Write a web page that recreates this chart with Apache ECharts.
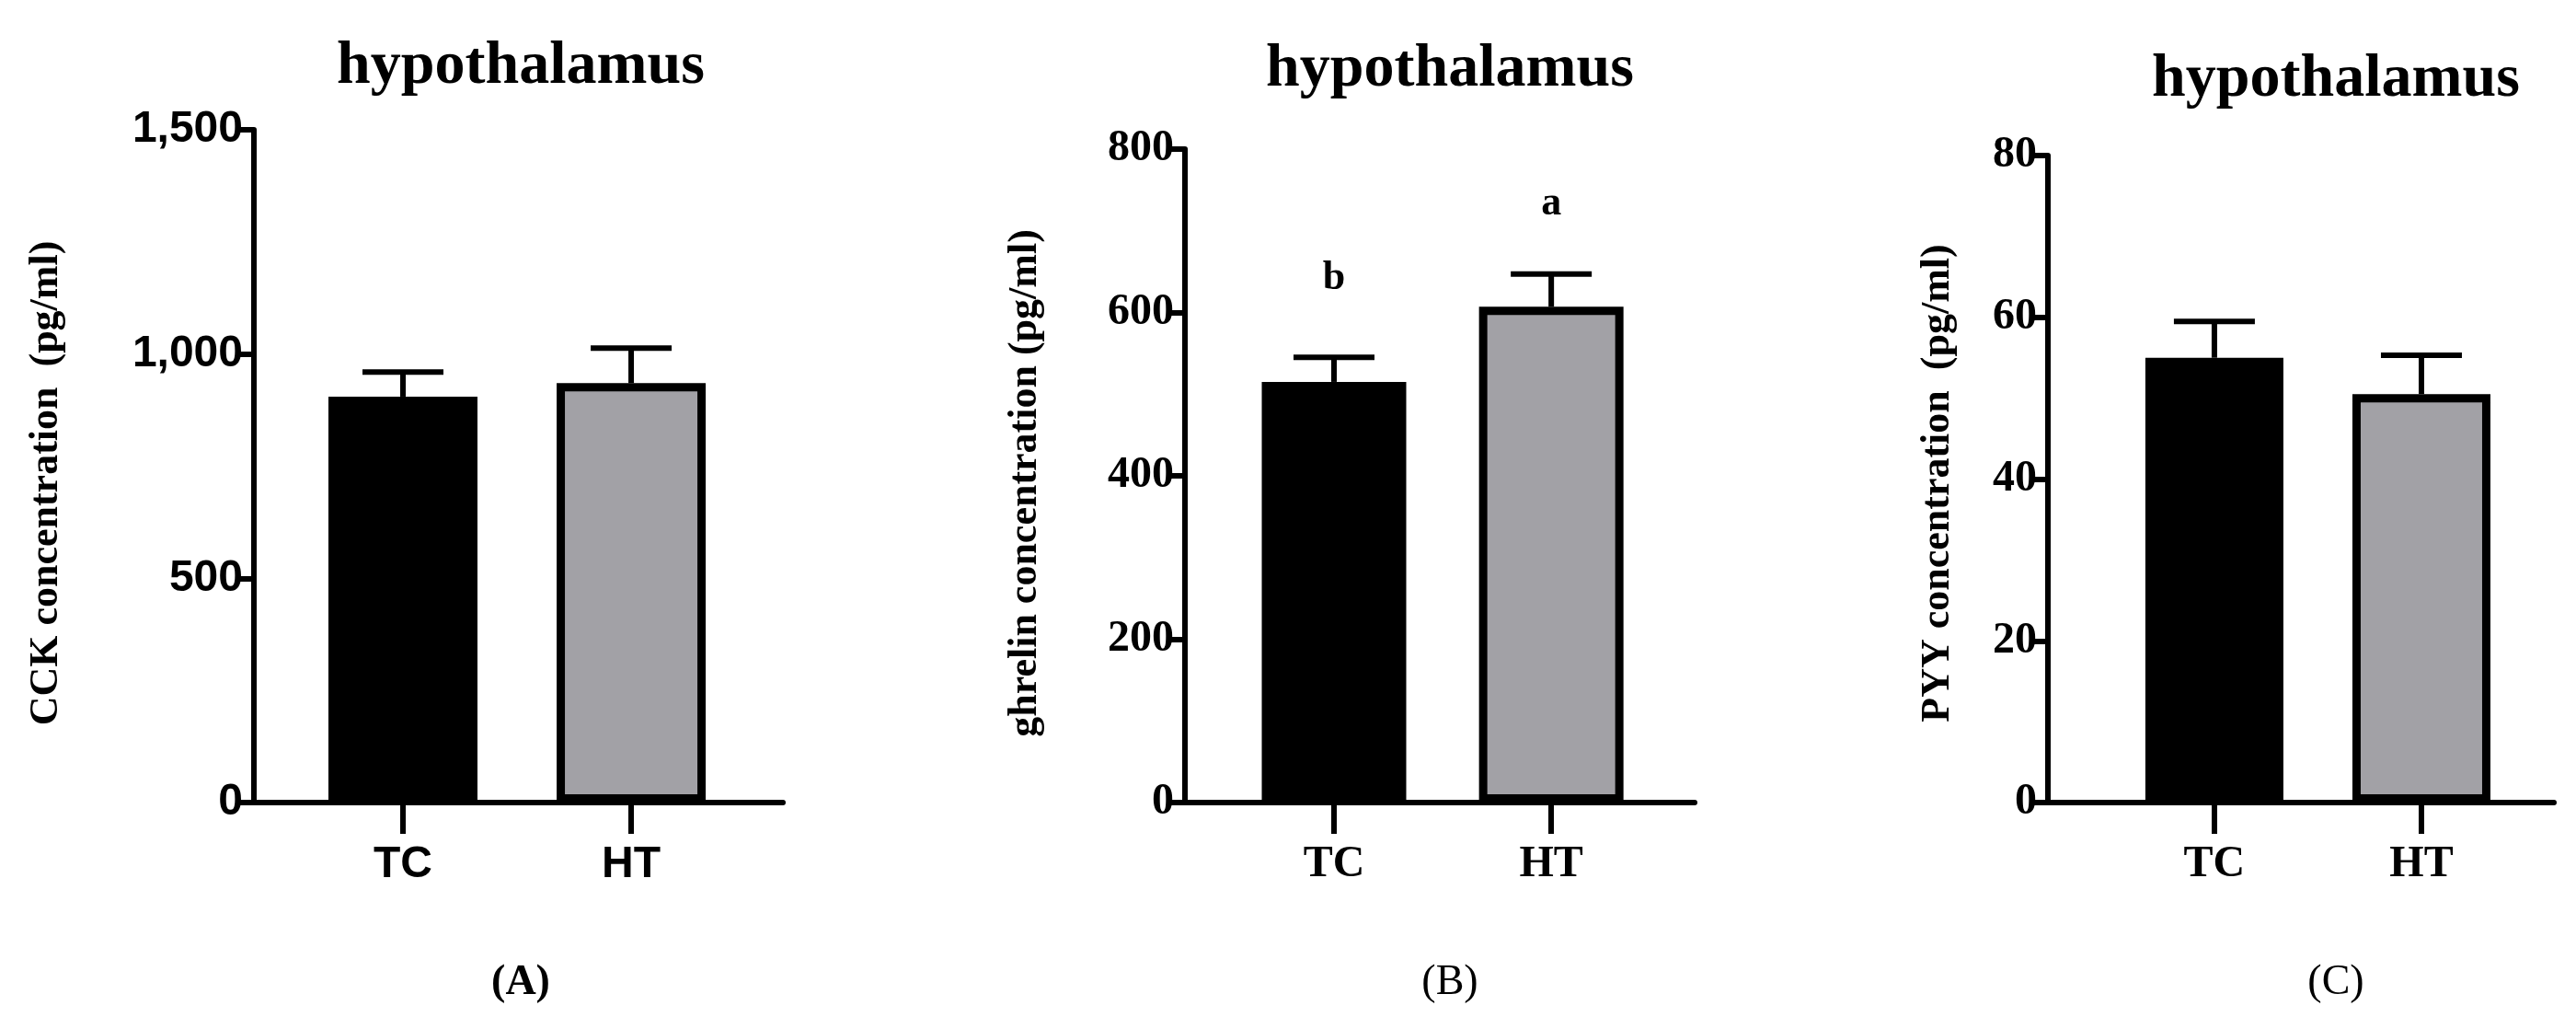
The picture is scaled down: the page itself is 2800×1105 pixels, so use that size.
<!DOCTYPE html>
<html><head><meta charset="utf-8">
<script src="https://cdn.jsdelivr.net/npm/echarts@6/dist/echarts.min.js"></script>
<style>html,body{margin:0;background:#fff}#c{width:2800px;height:1105px}</style>
</head><body><div id="c"></div>
<script>
const categories = ['TC', 'HT'];
const cckMean = [905, 935];
const cckErr = [55, 78];
const ghrelinMean = [515, 607];
const ghrelinErr = [30, 40];
const pyyMean = [55, 50.5];
const pyyErr = [4.5, 4.8];
const letters = ['b', 'a'];
const colors = ['#000000', '#a2a1a6'];

const chart = echarts.init(document.getElementById('c'));
const panels = [
  { mean: cckMean, err: cckErr, max: 1500, step: 500, left: 276, top: 141, width: 575, xmin: 0.347, xmax: 2.665, bw: 162, name: 'CCK concentration  (pg/ml)', font: 'Liberation Sans', lab: '(A)', labBold: true, cx: 561, ty: 35, nameX: 51 },
  { mean: ghrelinMean, err: ghrelinErr, max: 800, step: 200, left: 1288, top: 162, width: 554, xmin: 0.314, xmax: 2.66, bw: 157, name: 'ghrelin concentration (pg/ml)', font: 'Liberation Sans Narrow', lab: '(B)', labBold: false, cx: 1571, ty: 38, nameX: 1115 },
  { mean: pyyMean, err: pyyErr, max: 80, step: 20, left: 2226, top: 169, width: 550, xmin: 0.196, xmax: 2.64, bw: 150, name: 'PYY concentration  (pg/ml)', font: 'Liberation Sans Narrow', lab: '(C)', labBold: false, cx: 2534, ty: 49, nameX: 2107 }
];

const grid = [], xAxis = [], yAxis = [], series = [], title = [];
panels.forEach((p, i) => {
  grid.push({ left: p.left, top: p.top, width: p.width, bottom: 233 });
  xAxis.push({
    type: 'value', gridIndex: i, min: p.xmin, max: p.xmax, splitLine: { show: false },
    axisLine: { lineStyle: { color: '#000', width: 6 } },
    axisTick: { customValues: [1, 2], length: 34, lineStyle: { color: '#000', width: 6 } },
    axisLabel: { customValues: [1, 2], formatter: v => categories[Math.round(v) - 1], color: '#000', fontFamily: p.font, fontWeight: 'bold', fontSize: 48, margin: 44 }
  });
  yAxis.push({
    type: 'value', gridIndex: i, min: 0, max: p.max, interval: p.step, splitLine: { show: false },
    axisLine: { show: true, lineStyle: { color: '#000', width: 6 } },
    axisTick: { show: true, length: 18, lineStyle: { color: '#000', width: 6 } },
    axisLabel: { color: '#000', fontFamily: p.font, fontWeight: 'bold', fontSize: 48, margin: 12 }
  });
  series.push({
    type: 'bar', xAxisIndex: i, yAxisIndex: i, barWidth: p.bw,
    data: p.mean.map((v, k) => ({ value: [k + 1, v], itemStyle: { color: colors[k], borderColor: '#000', borderWidth: 9 } })),
    label: i === 1 ? { show: true, position: 'top', distance: 90, formatter: d => letters[d.dataIndex], fontFamily: 'Liberation Serif', fontWeight: 'bold', fontSize: 44, color: '#000' } : { show: false },
    z: 2
  });
  series.push({
    type: 'custom', xAxisIndex: i, yAxisIndex: i, z: 1,
    data: p.mean.map((v, k) => [k + 1, v, v + p.err[k]]),
    renderItem: (params, api) => {
      const b = api.coord([api.value(0), api.value(1)]);
      const t = api.coord([api.value(0), api.value(2)]);
      const s = { stroke: '#000', lineWidth: 6 };
      return { type: 'group', children: [
        { type: 'line', shape: { x1: b[0], y1: b[1], x2: t[0], y2: t[1] }, style: s },
        { type: 'line', shape: { x1: t[0] - 44, y1: t[1], x2: t[0] + 44, y2: t[1] }, style: s }
      ] };
    }
  });
  title.push({ text: 'hypothalamus', left: p.cx, top: p.ty, textAlign: 'center', textStyle: { fontFamily: 'Liberation Serif', fontWeight: 'bold', fontSize: 66, color: '#000' } });
  title.push({ text: p.lab, left: p.cx, top: 1040, textAlign: 'center', textStyle: { fontFamily: 'Liberation Serif', fontWeight: p.labBold ? 'bold' : 'normal', fontSize: 46, color: '#000' } });
});

chart.setOption({
  animation: false,
  title, grid, xAxis, yAxis, series,
  graphic: panels.map(p => ({
    type: 'text', x: p.nameX, y: 525, rotation: Math.PI / 2,
    style: { text: p.name, fontFamily: 'Liberation Serif', fontWeight: 'bold', fontSize: 44, fill: '#000', align: 'center', verticalAlign: 'middle' }
  }))
});
</script></body></html>
